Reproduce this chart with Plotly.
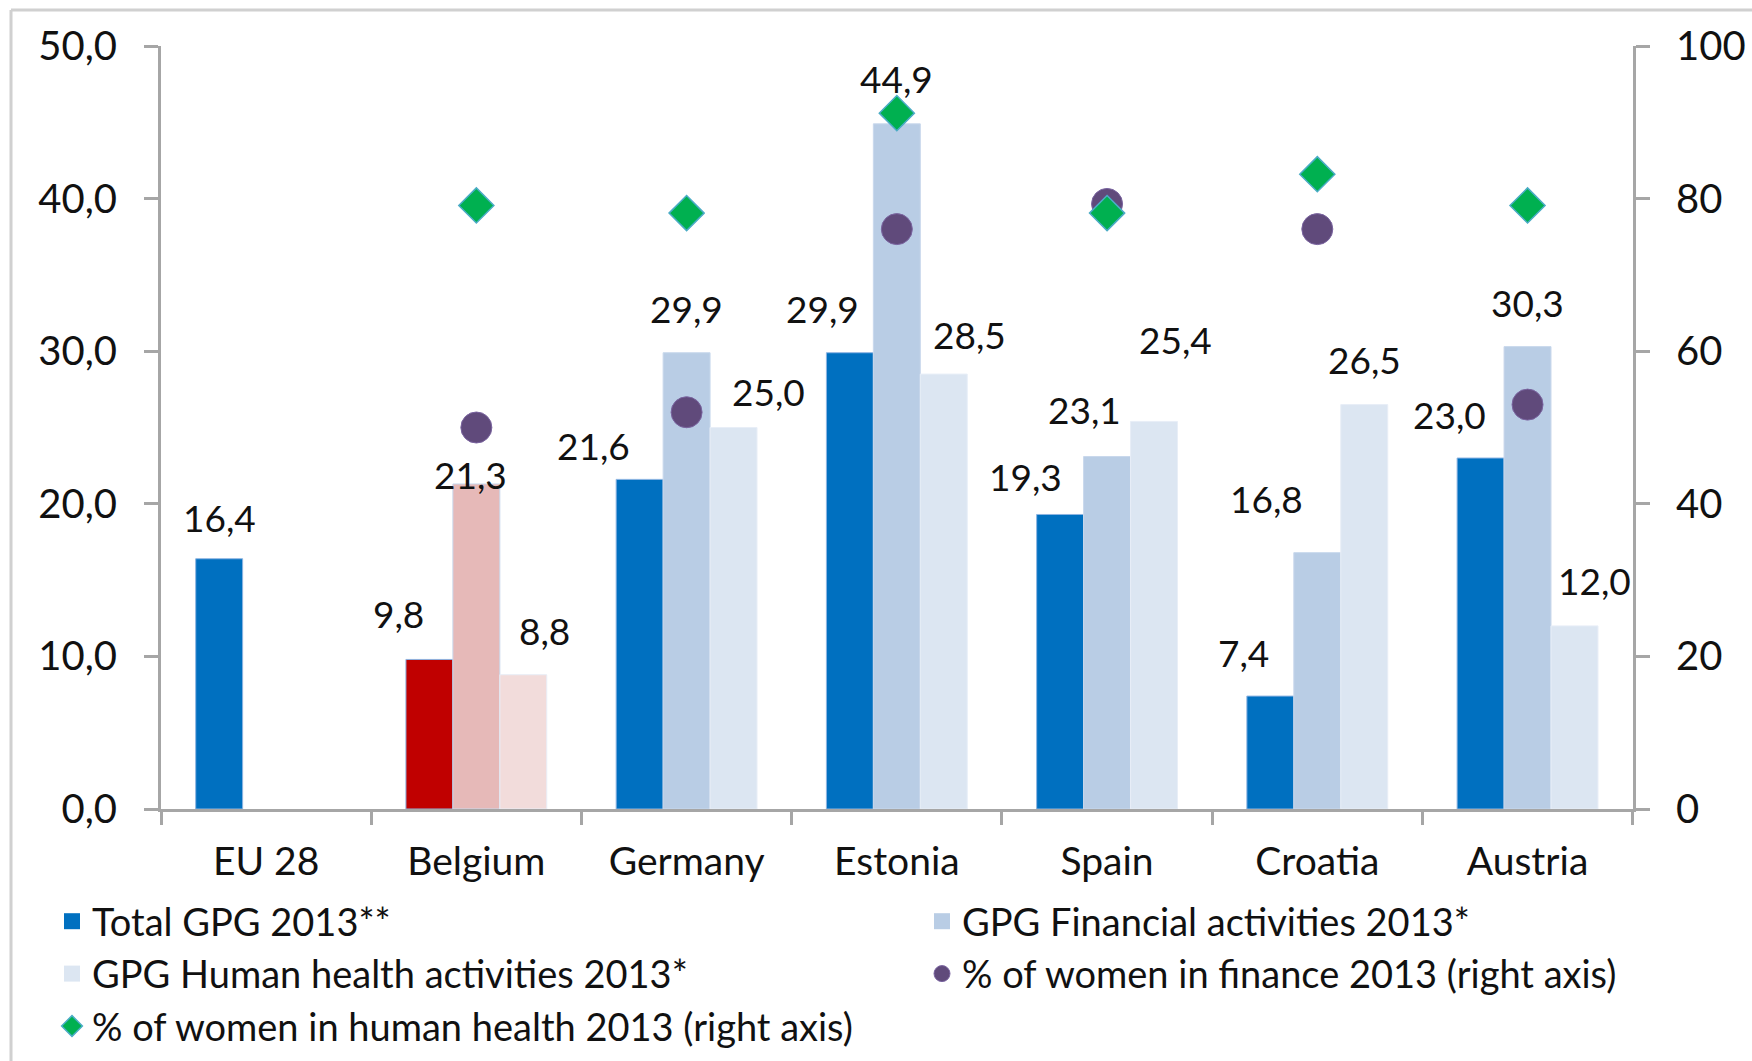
import plotly.graph_objects as go

categories = ["EU 28", "Belgium", "Germany", "Estonia", "Spain", "Croatia", "Austria"]
total_gpg = [16.4, 9.8, 21.6, 29.9, 19.3, 7.4, 23.0]
fin_gpg = [None, 21.3, 29.9, 44.9, 23.1, 16.8, 30.3]
health_gpg = [None, 8.8, 25.0, 28.5, 25.4, 26.5, 12.0]
women_fin = [None, 50.0, 52.0, 76.0, 79.3, 76.0, 53.0]
women_health = [None, 79.1, 78.1, 91.2, 78.1, 83.2, 79.1]
left_ticks = [0, 10, 20, 30, 40, 50]
right_ticks = [0, 20, 40, 60, 80, 100]

# styling
W, H = 1752, 1061
ML, MR, MT, MB = 161, 119, 46, 252
PW, PH = W - ML - MR, H - MT - MB
FONT = "Lato"
TXT = "#111111"

BLUE, FIN, HEA = "#0070C0", "#B9CDE5", "#DCE6F2"
total_colors = [BLUE if c != "Belgium" else "#C00000" for c in categories]
fin_colors = [FIN if c != "Belgium" else "#E6B9B8" for c in categories]
health_colors = [HEA if c != "Belgium" else "#F2DCDB" for c in categories]

fig = go.Figure()
fig.add_trace(go.Bar(x=categories, y=total_gpg, name="Total GPG 2013**", showlegend=False,
                     marker=dict(color=total_colors, line=dict(color="#8DB4E2", width=1))))
fig.add_trace(go.Bar(x=categories, y=fin_gpg, name="GPG Financial activities 2013*", showlegend=False,
                     marker=dict(color=fin_colors, line=dict(color="#C9D8EC", width=1))))
fig.add_trace(go.Bar(x=categories, y=health_gpg, name="GPG Human health activities 2013*",
                     showlegend=False,
                     marker=dict(color=health_colors, line=dict(color="#E8EEF7", width=1))))
fig.add_trace(go.Scatter(x=categories, y=women_fin, yaxis="y2", mode="markers", legend="legend2",
                         legendgroup="d", legendrank=ord("d"),
                         name="% of women in finance 2013 (right axis)",
                         marker=dict(symbol="circle", size=31, color="#604A7B",
                                     line=dict(color="#7A64A0", width=1))))
fig.add_trace(go.Scatter(x=categories, y=women_health, yaxis="y2", mode="markers", legend="legend",
                         legendgroup="e", legendrank=ord("e"),
                         name="% of women in human health 2013 (right axis)",
                         marker=dict(symbol="diamond", size=27, color="#00B050",
                                     line=dict(color="#4BACC6", width=1.5))))

# legend-only entries with larger square swatches for the bar series
for name, col, leg, grp in [("Total GPG 2013**", BLUE, "legend", "a"),
                            ("GPG Financial activities 2013*", FIN, "legend2", "b"),
                            ("GPG Human health activities 2013*", HEA, "legend", "c")]:
    fig.add_trace(go.Scatter(x=[None], y=[None], mode="markers", name=name, legend=leg,
                             legendgroup=grp, legendrank=ord(grp),
                             marker=dict(symbol="square", size=16, color=col)))

# data labels (label offsets in px relative to bar top-centre)
slot = PW / 7 * (1 - 0.33) / 3
series = [total_gpg, fin_gpg, health_gpg]
slot_off = [-slot, 0, slot]
dx = [[0, -31, -46, -27, -35, -27, -31],
      [0, -6, 0, 0, -23, -51, 0],
      [0, 21, 35, 26, 21, 0, 20]]
dy = [[41, 46, 34, 44, 38, 44, 44],
      [44, 9, 44, 45, 47, 54, 44],
      [44, 44, 36, 40, 82, 45, 45]]
annotations = []
for s, vals in enumerate(series):
    for i, v in enumerate(vals):
        if v is None:
            continue
        annotations.append(dict(x=categories[i], y=v, xref="x", yref="y",
                                text=f"{v:.1f}".replace(".", ","), showarrow=False,
                                xshift=slot_off[s] + dx[s][i], yshift=dy[s][i],
                                font=dict(family=FONT, size=37, color=TXT)))

def px_x(p):
    return (p - ML) / PW

def px_y(p):
    return (H - MB - p) / PH

shapes = [
    dict(type="line", xref="paper", yref="paper", x0=px_x(11), x1=px_x(W), y0=px_y(10), y1=px_y(10),
         line=dict(color="#D0D0D0", width=3)),
    dict(type="line", xref="paper", yref="paper", x0=px_x(11), x1=px_x(11), y0=px_y(10), y1=px_y(H),
         line=dict(color="#D0D0D0", width=3)),
]

legend_common = dict(orientation="v", yanchor="top", traceorder="normal", itemwidth=30,
                     font=dict(family=FONT, size=38, color=TXT), bgcolor="rgba(0,0,0,0)",
                     tracegroupgap=6)

fig.update_layout(
    width=W, height=H,
    margin=dict(l=ML, r=MR, t=MT, b=MB, autoexpand=False),
    paper_bgcolor="white", plot_bgcolor="white",
    separators=",.",
    barmode="group", bargap=0.33, bargroupgap=0,
    font=dict(family=FONT, size=39, color=TXT),
    showlegend=True,
    legend=dict(x=px_x(52), xanchor="left", y=px_y(890), **legend_common),
    legend2=dict(x=px_x(922), xanchor="left", y=px_y(890), **legend_common),
    xaxis=dict(type="category", showline=True, linecolor="#A6A6A6", linewidth=3,
               ticks="outside", tickson="boundaries", ticklen=13, tickcolor="#A6A6A6", tickwidth=3,
               showgrid=False, tickfont=dict(family=FONT, size=39, color=TXT),
               ticklabelstandoff=16),
    yaxis=dict(range=[0, 50], tickvals=left_ticks, tickformat=".1f", showline=True,
               linecolor="#A6A6A6", linewidth=3, ticks="outside", ticklen=14, tickcolor="#A6A6A6",
               tickwidth=3, showgrid=False, zeroline=False, ticklabelstandoff=19,
               tickfont=dict(family=FONT, size=40, color=TXT)),
    yaxis2=dict(range=[0, 100], tickvals=right_ticks, overlaying="y", side="right", showline=True,
                linecolor="#A6A6A6", linewidth=3, ticks="outside", ticklen=14, tickcolor="#A6A6A6",
                tickwidth=3, showgrid=False, zeroline=False, ticklabelstandoff=18,
                tickfont=dict(family=FONT, size=40, color=TXT)),
    annotations=annotations,
    shapes=shapes,
)

fig.write_html("out.html", config={"displayModeBar": False},
               post_script="document.body.style.margin='0';")
